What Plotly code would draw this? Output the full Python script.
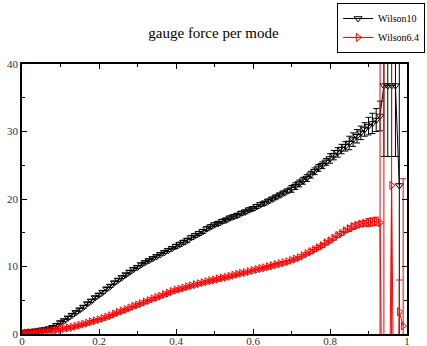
import plotly.graph_objects as go

x_w10 = [round(0.01 * i, 2) for i in range(99)]
y_w10 = [0.2, 0.3, 0.35, 0.4, 0.5, 0.6, 0.7, 0.8, 1.0, 1.3,
         1.7, 2.0, 2.4, 2.8, 3.2, 3.6, 4.0, 4.5, 4.9, 5.4,
         5.8, 6.2, 6.7, 7.1, 7.6, 8.0, 8.4, 8.8, 9.2, 9.6,
         9.9, 10.3, 10.6, 10.9, 11.2, 11.5, 11.8, 12.1, 12.4, 12.7,
         13.0, 13.3, 13.6, 13.9, 14.3, 14.6, 14.9, 15.2, 15.6, 15.9,
         16.2, 16.4, 16.7, 16.9, 17.2, 17.4, 17.6, 17.9, 18.1, 18.4,
         18.6, 18.9, 19.2, 19.4, 19.7, 20.0, 20.3, 20.6, 20.9, 21.2,
         21.5, 21.9, 22.3, 22.7, 23.1, 23.6, 24.1, 24.6, 25.0, 25.5,
         26.0, 26.5, 26.9, 27.4, 27.8, 28.3, 28.8, 29.3, 29.8, 30.3,
         30.8, 31.2, 31.7, 32.3, 36.8, 36.8, 36.8, 36.8, 22.0]
e_w10 = [0.2, 0.2, 0.2, 0.2, 0.2, 0.2, 0.2, 0.2, 0.2, 0.2,
         0.2, 0.2, 0.2, 0.2, 0.2, 0.2, 0.2, 0.2, 0.2, 0.2,
         0.2, 0.2, 0.2, 0.2, 0.2, 0.2, 0.2, 0.2, 0.2, 0.2,
         0.2, 0.2, 0.2, 0.2, 0.2, 0.2, 0.2, 0.2, 0.2, 0.2,
         0.3, 0.3, 0.3, 0.3, 0.3, 0.3, 0.3, 0.3, 0.3, 0.3,
         0.3, 0.3, 0.3, 0.3, 0.3, 0.3, 0.3, 0.3, 0.3, 0.3,
         0.3, 0.3, 0.3, 0.3, 0.3, 0.3, 0.3, 0.3, 0.3, 0.3,
         0.5, 0.5, 0.5, 0.5, 0.5, 0.5, 0.5, 0.5, 0.5, 0.5,
         0.7, 0.7, 0.7, 0.7, 0.7, 1.0, 1.0, 1.0, 1.0, 1.0,
         1.3, 1.5, 1.7, 2.2, 10.5, 10.5, 10.5, 10.5, 30.0]

x_w64 = [round(0.01 * i, 2) for i in range(100)]
y_w64 = [0.1, 0.15, 0.2, 0.25, 0.3, 0.35, 0.4, 0.45, 0.5, 0.6,
         0.7, 0.8, 0.9, 1.0, 1.15, 1.3, 1.45, 1.6, 1.8, 1.95,
         2.1, 2.3, 2.5, 2.7, 2.95, 3.2, 3.4, 3.6, 3.85, 4.1,
         4.3, 4.5, 4.75, 4.95, 5.2, 5.4, 5.6, 5.85, 6.05, 6.3,
         6.5, 6.65, 6.8, 7.0, 7.15, 7.3, 7.45, 7.6, 7.75, 7.9,
         8.0, 8.15, 8.3, 8.4, 8.55, 8.7, 8.85, 9.0, 9.1, 9.25,
         9.4, 9.55, 9.7, 9.8, 9.95, 10.1, 10.25, 10.4, 10.55, 10.7,
         10.9, 11.1, 11.3, 11.6, 11.9, 12.2, 12.5, 12.8, 13.1, 13.5,
         13.8, 14.2, 14.6, 14.9, 15.3, 15.6, 15.9, 16.1, 16.3, 16.4,
         16.5, 16.6, 16.7, 16.5, -40.0, -40.0, 22.0, -40.0, 3.3, 1.2]
e_w64 = [0.2, 0.2, 0.2, 0.2, 0.2, 0.2, 0.2, 0.2, 0.2, 0.2,
         0.2, 0.2, 0.2, 0.2, 0.2, 0.2, 0.2, 0.2, 0.2, 0.2,
         0.2, 0.2, 0.2, 0.2, 0.2, 0.2, 0.2, 0.2, 0.2, 0.2,
         0.2, 0.2, 0.2, 0.2, 0.2, 0.2, 0.2, 0.2, 0.2, 0.2,
         0.2, 0.2, 0.2, 0.2, 0.2, 0.2, 0.2, 0.2, 0.2, 0.2,
         0.2, 0.2, 0.2, 0.2, 0.2, 0.2, 0.2, 0.2, 0.2, 0.2,
         0.2, 0.2, 0.2, 0.2, 0.2, 0.2, 0.2, 0.2, 0.2, 0.2,
         0.2, 0.2, 0.2, 0.2, 0.2, 0.3, 0.3, 0.3, 0.3, 0.3,
         0.3, 0.3, 0.3, 0.3, 0.3, 0.4, 0.4, 0.4, 0.4, 0.4,
         0.6, 0.6, 0.6, 50.0, 100.0, 0.0, 60.0, 0.0, 4.7, 21.8]

x_ticks = [0, 0.2, 0.4, 0.6, 0.8, 1]
x_labels = ["0", "0.2", "0.4", "0.6", "0.8", "1"]
y_ticks = [0, 10, 20, 30, 40]

SERIF = "Liberation Serif, Times New Roman, serif"

fig = go.Figure()
fig.add_trace(go.Scatter(
    x=x_w10, y=y_w10, name="Wilson10", mode="lines+markers",
    line=dict(color="black", width=1),
    marker=dict(symbol="triangle-down-open", size=7, color="black", line=dict(width=1)),
    error_y=dict(type="data", array=e_w10, color="black", thickness=1, width=3),
))
fig.add_trace(go.Scatter(
    x=x_w64, y=y_w64, name="Wilson6.4", mode="lines+markers",
    line=dict(color="#ff0000", width=1),
    marker=dict(symbol="triangle-right-open", size=7, color="#ff0000", line=dict(width=1)),
    error_y=dict(type="data", array=e_w64, color="#ff0000", thickness=1, width=3),
))

axis_common = dict(
    showgrid=False, zeroline=False, showline=True, linecolor="black", linewidth=1.5,
    mirror="allticks", ticks="inside", ticklen=5, tickwidth=1, tickcolor="black",
    tickfont=dict(family=SERIF, size=11, color="#333"),
)
fig.update_xaxes(range=[0, 1], tickvals=x_ticks, ticktext=x_labels,
                 ticklabelstandoff=-4,
                 minor=dict(dtick=0.1, ticks="inside", ticklen=3, tickcolor="black"),
                 **axis_common)
fig.update_yaxes(range=[0, 40], tickvals=y_ticks,
                 minor=dict(dtick=5, ticks="inside", ticklen=3, tickcolor="black"),
                 **axis_common)

fig.update_layout(
    width=427, height=346,
    margin=dict(l=22, r=20, t=64, b=12, autoexpand=False),
    paper_bgcolor="white", plot_bgcolor="white",
    title=dict(text="gauge force per mode", x=0.5, xanchor="center", y=0.905, yanchor="middle",
               font=dict(family=SERIF, size=15, color="black")),
    showlegend=True,
    legend=dict(x=1.047, xanchor="right", y=1.226, yanchor="top",
                bordercolor="black", borderwidth=1, bgcolor="white",
                font=dict(family=SERIF, size=10, color="black"),
                itemwidth=30, tracegroupgap=0),
)

fig.write_html("out.html")
